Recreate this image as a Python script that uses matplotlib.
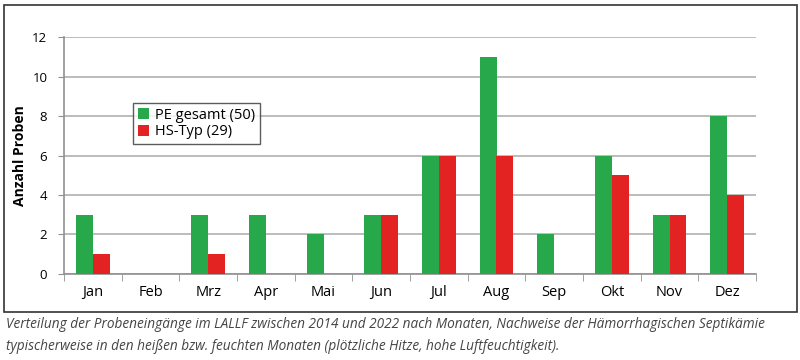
import numpy as np
import matplotlib
matplotlib.use("Agg")
import matplotlib.pyplot as plt
from matplotlib.patches import Rectangle

months = ["Jan", "Feb", "Mrz", "Apr", "Mai", "Jun", "Jul", "Aug", "Sep", "Okt", "Nov", "Dez"]
pe_gesamt = [3, 0, 3, 3, 2, 3, 6, 11, 2, 6, 3, 8]
hs_typ = [1, 0, 1, 0, 0, 3, 6, 6, 0, 5, 3, 4]
y_ticks = [0, 2, 4, 6, 8, 10, 12]

caption = ("Verteilung der Probeneingänge im LALLF zwischen 2014 und 2022 nach Monaten, "
           "Nachweise der Hämorrhagischen Septikämie\n"
           "typischerweise in den heißen bzw. feuchten Monaten (plötzliche Hitze, hohe Luftfeuchtigkeit).")

plt.rcParams["font.family"] = ["Open Sans", "DejaVu Sans"]

fig = plt.figure(figsize=(8, 3.6), dpi=100)
ax = fig.add_axes([0.08, 0.239, 0.865, 0.658])

# outer frame round the chart
fig.patches.append(Rectangle((0.005, 0.133), 0.991, 0.853, transform=fig.transFigure,
                             fill=False, edgecolor="#333333", linewidth=1.2))

x = np.arange(len(months))
w = 0.29
ax.bar(x - w / 2, pe_gesamt, w, color="#27a84a", label="PE gesamt (50)", zorder=3)
ax.bar(x + w / 2, hs_typ, w, color="#e32322", label="HS-Typ (29)", zorder=3)

ax.set_xlim(-0.5, len(months) - 0.5)
ax.set_ylim(0, 12)
ax.set_yticks(y_ticks)
ax.set_yticklabels([str(v) for v in y_ticks], fontsize=9.5)
ax.set_xticks(x)
ax.set_xticklabels(months, fontsize=10.5)
ax.tick_params(axis="x", length=0, pad=8)
ax.set_xticks(np.arange(-0.5, len(months)), minor=True)
ax.tick_params(axis="x", which="minor", length=5, color="#909090", direction="out")
ax.tick_params(axis="y", length=4, color="#909090", pad=8)

ax.grid(axis="y", color="#b0b0b0", linewidth=1.2, zorder=0)
for s in ["top", "right"]:
    ax.spines[s].set_visible(False)
for s in ["left", "bottom"]:
    ax.spines[s].set_color("#909090")
    ax.spines[s].set_linewidth(1.2)

ax.set_ylabel("Anzahl Proben", fontsize=10, fontweight="bold", labelpad=4)

leg = ax.legend(loc="upper left", bbox_to_anchor=(0.1, 0.72), frameon=True, fancybox=False,
                fontsize=10.5, handlelength=0.8, handleheight=0.8, handletextpad=0.4,
                borderpad=0.3, labelspacing=0.1, borderaxespad=0)
leg.get_frame().set_edgecolor("#333333")
leg.get_frame().set_linewidth(1.0)

fig.text(0.007, 0.068, caption, fontsize=9.8, style="italic", color="#444444",
         va="center", ha="left", linespacing=1.65)

fig.savefig("out.png", dpi=100)
